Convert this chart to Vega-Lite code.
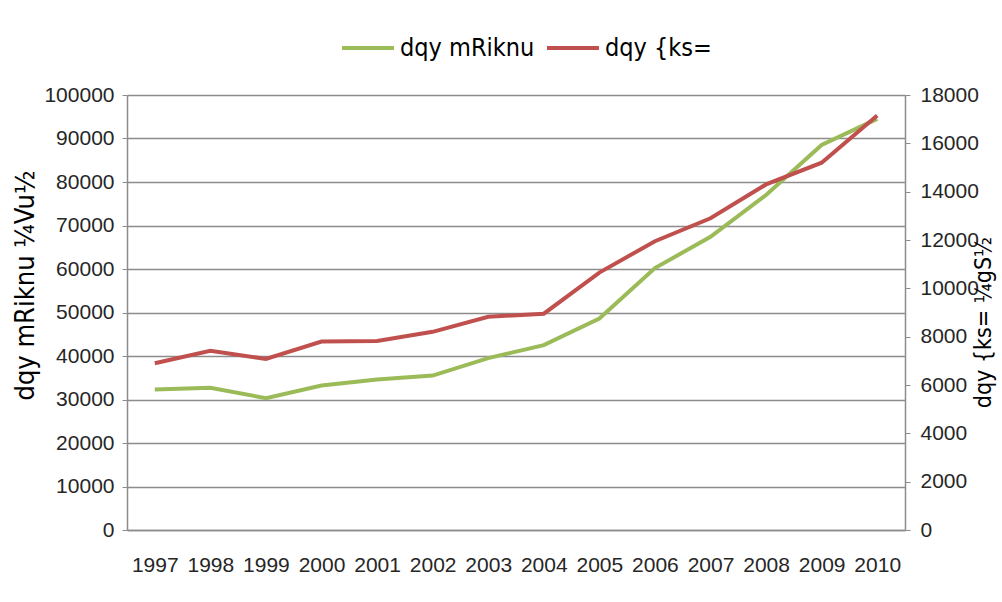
{
  "$schema": "https://vega.github.io/schema/vega-lite/v6.json",
  "autosize": {"type": "none"},
  "width": 778,
  "height": 435,
  "padding": {"left": 127, "top": 95, "right": 97, "bottom": 72},
  "background": "white",
  "config": {
    "view": {"stroke": null},
    "font": "Liberation Sans",
    "axis": {"labelFont": "Liberation Sans", "labelFontSize": 21, "labelColor": "#262626", "labelOverlap": false, "domainColor": "#8c8c8c", "tickColor": "#8c8c8c", "gridColor": "#8c8c8c", "titleFont": "DejaVu Sans Condensed", "titleFontWeight": "normal", "titleColor": "#000000"},
    "legend": {"labelFont": "DejaVu Sans Condensed", "labelFontSize": 25, "labelColor": "#000000", "symbolType": "stroke", "symbolStrokeWidth": 4, "symbolSize": 2700, "columnPadding": 4, "labelOffset": 4, "labelLimit": 400}
  },
  "data": {"values": [
    {"year": "1997", "production": 32300, "area": 6900},
    {"year": "1998", "production": 32700, "area": 7420},
    {"year": "1999", "production": 30300, "area": 7080},
    {"year": "2000", "production": 33200, "area": 7800},
    {"year": "2001", "production": 34600, "area": 7820},
    {"year": "2002", "production": 35500, "area": 8200},
    {"year": "2003", "production": 39500, "area": 8820},
    {"year": "2004", "production": 42500, "area": 8950},
    {"year": "2005", "production": 48600, "area": 10650},
    {"year": "2006", "production": 60200, "area": 11950},
    {"year": "2007", "production": 67400, "area": 12900},
    {"year": "2008", "production": 77000, "area": 14300},
    {"year": "2009", "production": 88500, "area": 15200},
    {"year": "2010", "production": 94500, "area": 17150}
  ]},
  "encoding": {
    "x": {"field": "year", "type": "ordinal", "scale": {"type": "point", "padding": 0.5},
      "axis": {"title": null, "labelAngle": 0, "labelPadding": 24, "labelFontSize": 21, "ticks": false, "grid": false, "domainWidth": 1.5}}
  },
  "layer": [
    {
      "mark": {"type": "line", "strokeWidth": 4},
      "encoding": {
        "y": {"field": "production", "type": "quantitative", "scale": {"domain": [0, 100000]},
          "axis": {"title": "dqy mRiknu ¼Vu½", "titleFontSize": 27, "titlePadding": 4, "titleY": 190, "format": "d", "values": [0,10000,20000,30000,40000,50000,60000,70000,80000,90000,100000], "labelPadding": 8, "tickSize": 5, "gridWidth": 1.5, "domainWidth": 1.5}},
        "color": {"datum": "dqy mRiknu", "type": "nominal",
          "scale": {"domain": ["dqy mRiknu", "dqy {ks="], "range": ["#9BBB59", "#C0504D"]},
          "legend": {"title": null, "orient": "none", "direction": "horizontal", "legendX": 213, "legendY": -75}}
      }
    },
    {
      "mark": {"type": "line", "strokeWidth": 4},
      "encoding": {
        "y": {"field": "area", "type": "quantitative", "scale": {"domain": [0, 18000]},
          "axis": {"orient": "right", "title": "dqy {ks= ¼gS½", "titleFontSize": 23, "titleAngle": 270, "titlePadding": 17, "titleY": 227, "format": "d", "values": [0,2000,4000,6000,8000,10000,12000,14000,16000,18000], "grid": false, "labelPadding": 10, "tickSize": 5, "domainWidth": 1.5}},
        "color": {"datum": "dqy {ks=", "type": "nominal"}
      }
    }
  ],
  "resolve": {"scale": {"y": "independent"}}
}
